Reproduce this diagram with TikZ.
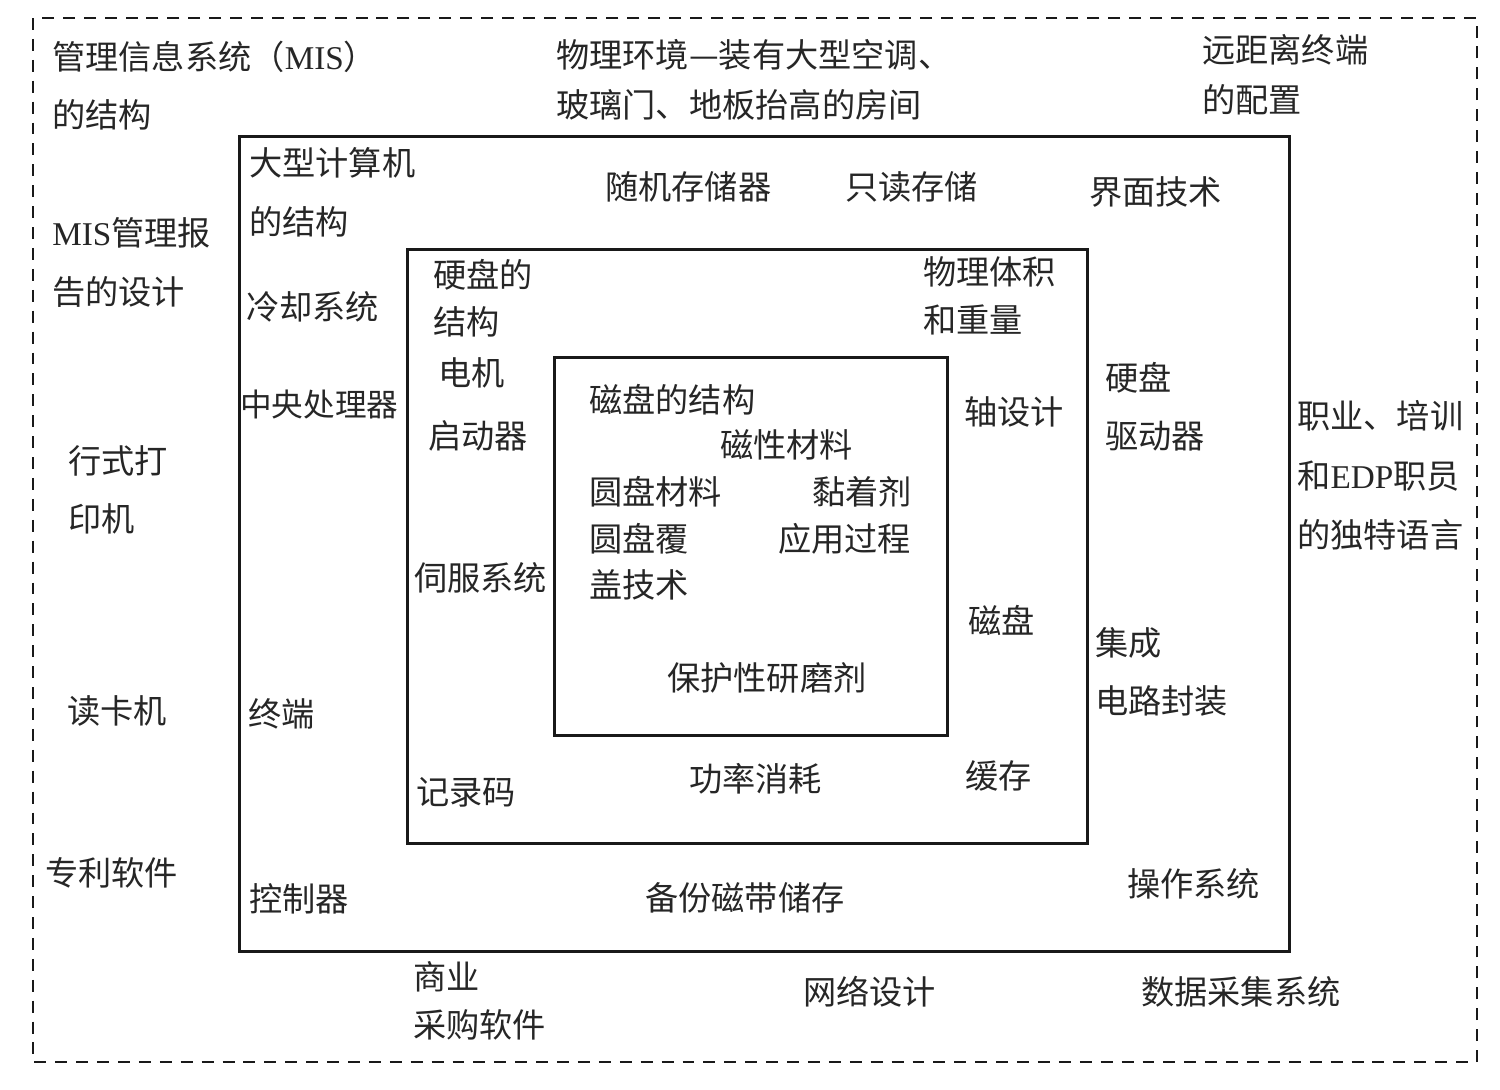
\documentclass[tikz,border=0pt]{standalone}
\usepackage{fontspec}
\setmainfont{Liberation Serif}
\newfontfamily\cjk{Noto Sans CJK SC}
\newcommand{\lat}[1]{{\rmfamily #1}}
\begin{document}
\begin{tikzpicture}[x=0.02cm,y=-0.02cm,
  lbl/.style={anchor=west,inner sep=0pt,text=black!85,font=\cjk\fontsize{18.9}{22}\selectfont},
  frame/.style={draw=black!90,line width=1.6pt},
  dframe/.style={draw=black!90,line width=1.4pt,dash pattern=on 6.8pt off 5.1pt}]
\useasboundingbox (0,0) rectangle (1500,1089);
% frames
\draw[dframe] (33,18) rectangle (1477,1062);
\node[frame,inner sep=0pt,minimum width=1050*0.02cm,minimum height=815*0.02cm,anchor=north west] (b1) at (238,135) {};
\node[frame,inner sep=0pt,minimum width=680*0.02cm,minimum height=594*0.02cm,anchor=north west] (b2) at (406,248) {};
\node[frame,inner sep=0pt,minimum width=393*0.02cm,minimum height=378*0.02cm,anchor=north west] (b3) at (553,356) {};
% outer region
\node[lbl] (o1) at (52,57) {管理信息系统（\lat{MIS}）};
\node[lbl] (o2) at (52,115) {的结构};
\node[lbl] (o3) at (556,55) {物理环境—装有大型空调、};
\node[lbl] (o4) at (556,105) {玻璃门、地板抬高的房间};
\node[lbl] (o5) at (1202,50) {远距离终端};
\node[lbl] (o6) at (1202,100) {的配置};
\node[lbl] (o7) at (52,233) {\lat{MIS}管理报};
\node[lbl] (o8) at (52,292) {告的设计};
\node[lbl] (o9) at (68,461) {行式打};
\node[lbl] (o10) at (68,519) {印机};
\node[lbl] (o11) at (67,711) {读卡机};
\node[lbl] (o12) at (45,873) {专利软件};
\node[lbl] (o13) at (1297,416) {职业、培训};
\node[lbl] (o14) at (1297,476) {和\lat{EDP}职员};
\node[lbl] (o15) at (1297,535) {的独特语言};
\node[lbl] (o16) at (413,977) {商业};
\node[lbl] (o17) at (413,1025) {采购软件};
\node[lbl] (o18) at (803,992) {网络设计};
\node[lbl] (o19) at (1141,992) {数据采集系统};
% box 1
\node[lbl] (a1) at (249,163) {大型计算机};
\node[lbl] (a2) at (249,222) {的结构};
\node[lbl] (a3) at (605,187) {随机存储器};
\node[lbl] (a4) at (845,187) {只读存储};
\node[lbl] (a5) at (1089,192) {界面技术};
\node[lbl] (a6) at (246,307) {冷却系统};
\node[lbl,font=\cjk\fontsize{18}{22}\selectfont] (a7) at (240,404) {中央处理器};
\node[lbl] (a8) at (248,714) {终端};
\node[lbl] (a9) at (249,899) {控制器};
\node[lbl] (a10) at (645,898) {备份磁带储存};
\node[lbl] (a11) at (1127,884) {操作系统};
\node[lbl] (a12) at (1105,378) {硬盘};
\node[lbl] (a13) at (1105,436) {驱动器};
\node[lbl] (a14) at (1095,643) {集成};
\node[lbl] (a15) at (1095,701) {电路封装};
% box 2
\node[lbl] (c1) at (433,275) {硬盘的};
\node[lbl] (c2) at (433,322) {结构};
\node[lbl] (c3) at (923,272) {物理体积};
\node[lbl] (c4) at (923,320) {和重量};
\node[lbl] (c5) at (438,373) {电机};
\node[lbl] (c6) at (428,436) {启动器};
\node[lbl] (c7) at (964,412) {轴设计};
\node[lbl] (c8) at (414,578) {伺服系统};
\node[lbl] (c9) at (968,620) {磁盘};
\node[lbl] (c10) at (416,792) {记录码};
\node[lbl] (c11) at (689,779) {功率消耗};
\node[lbl] (c12) at (965,776) {缓存};
% box 3
\node[lbl] (d1) at (589,400) {磁盘的结构};
\node[lbl] (d2) at (720,445) {磁性材料};
\node[lbl] (d3) at (589,492) {圆盘材料};
\node[lbl] (d4) at (812,492) {黏着剂};
\node[lbl] (d5) at (589,539) {圆盘覆};
\node[lbl] (d6) at (778,539) {应用过程};
\node[lbl] (d7) at (589,585) {盖技术};
\node[lbl] (d8) at (667,678) {保护性研磨剂};
\end{tikzpicture}
\end{document}
